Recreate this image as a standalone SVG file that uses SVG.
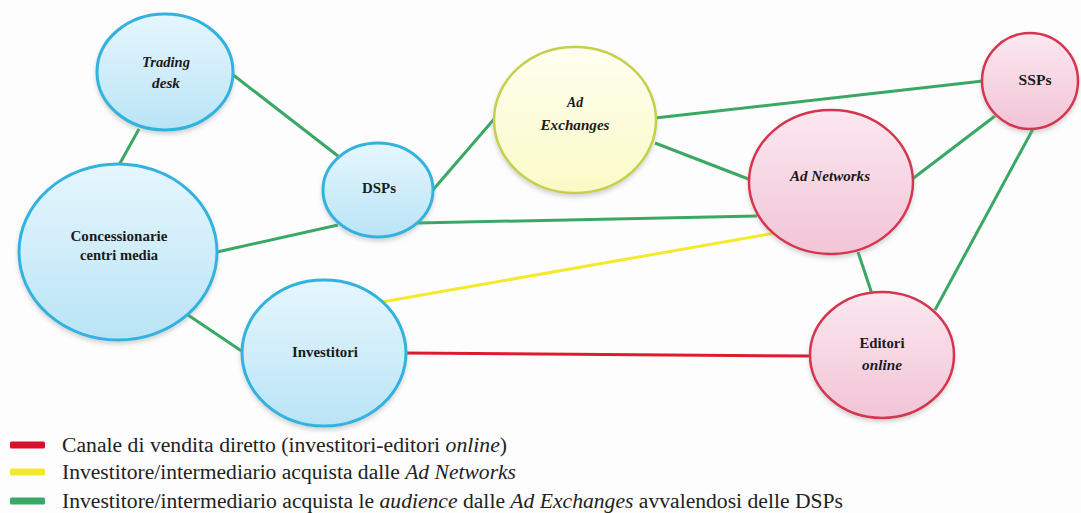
<svg xmlns="http://www.w3.org/2000/svg" width="1081" height="513" viewBox="0 0 1081 513">
<defs>
<linearGradient id="gBlue" x1="0" y1="0" x2="0" y2="1">
<stop offset="0" stop-color="#e6f6fd"/>
<stop offset="1" stop-color="#b9e4f6"/>
</linearGradient>
<linearGradient id="gPink" x1="0" y1="0" x2="0" y2="1">
<stop offset="0" stop-color="#fbe8f0"/>
<stop offset="1" stop-color="#f2c4d6"/>
</linearGradient>
<linearGradient id="gYellow" x1="0" y1="0" x2="0" y2="1">
<stop offset="0" stop-color="#fefef0"/>
<stop offset="1" stop-color="#fafac6"/>
</linearGradient>
<filter id="sh" x="-10%" y="-10%" width="120%" height="125%">
<feDropShadow dx="0" dy="3" stdDeviation="2" flood-color="#888" flood-opacity="0.35"/>
</filter>
</defs>
<style>
.bg{fill:#fdfdfd}
.blue{fill:url(#gBlue);stroke:#33b2df;stroke-width:3;filter:url(#sh)}
.pink{fill:url(#gPink);stroke:#d73450;stroke-width:2.5;filter:url(#sh)}
.yel{fill:url(#gYellow);stroke:#c6cf4a;stroke-width:2.5;filter:url(#sh)}
.lbl{font-weight:bold;font-size:15px;fill:#1a1a1a;text-anchor:middle}
.it{font-style:italic}
.g{stroke:#3aa865;stroke-width:3;fill:none}
.y{stroke:#f3ea2c;stroke-width:3;fill:none}
.r{stroke:#dc1c2e;stroke-width:3;fill:none}
.leg{font-size:20.5px;fill:#222}
</style>
<rect class="bg" x="0" y="0" width="1081" height="513"/>
<g id="connectors">
<line class="g" x1="139" y1="129" x2="119" y2="165"/>
<line class="g" x1="232" y1="74" x2="338" y2="156"/>
<line class="g" x1="217" y1="252" x2="338" y2="225"/>
<line class="g" x1="188" y1="315" x2="243" y2="352"/>
<line class="g" x1="432" y1="191" x2="495" y2="118"/>
<line class="g" x1="417" y1="223" x2="757" y2="216"/>
<line class="g" x1="655" y1="118" x2="983" y2="81"/>
<line class="g" x1="655" y1="143" x2="751" y2="180"/>
<line class="g" x1="911" y1="180" x2="995" y2="116"/>
<line class="g" x1="858" y1="252" x2="872" y2="294"/>
<line class="g" x1="1033" y1="129" x2="935" y2="310"/>
<line class="y" x1="382" y1="302" x2="775" y2="233"/>
<line class="r" x1="405" y1="353" x2="812" y2="356"/>
</g>
<g font-family="'Liberation Serif', 'Times New Roman', 'DejaVu Serif', serif">
<g id="trading-desk">
<ellipse class="blue" cx="165" cy="72" rx="68" ry="58"/>
<text class="lbl it" x="166" y="67" textLength="48" lengthAdjust="spacingAndGlyphs">Trading</text>
<text class="lbl it" x="166" y="88" textLength="28" lengthAdjust="spacingAndGlyphs">desk</text>
</g>
<g id="concessionarie">
<ellipse class="blue" cx="118" cy="252" rx="99" ry="88"/>
<text class="lbl" x="119" y="241" textLength="97" lengthAdjust="spacingAndGlyphs">Concessionarie</text>
<text class="lbl" x="119" y="260" textLength="78" lengthAdjust="spacingAndGlyphs">centri media</text>
</g>
<g id="dsps">
<ellipse class="blue" cx="378" cy="190" rx="55" ry="47"/>
<text class="lbl" x="379" y="193" textLength="34" lengthAdjust="spacingAndGlyphs">DSPs</text>
</g>
<g id="investitori">
<ellipse class="blue" cx="324" cy="353" rx="82" ry="73"/>
<text class="lbl" x="325" y="357" textLength="66" lengthAdjust="spacingAndGlyphs">Investitori</text>
</g>
<g id="ad-exchanges">
<ellipse class="yel" cx="575" cy="120" rx="81" ry="73"/>
<text class="lbl it" x="575" y="107" textLength="16" lengthAdjust="spacingAndGlyphs">Ad</text>
<text class="lbl it" x="575" y="130" textLength="69" lengthAdjust="spacingAndGlyphs">Exchanges</text>
</g>
<g id="ad-networks">
<ellipse class="pink" cx="831" cy="182" rx="82" ry="72"/>
<text class="lbl it" x="830" y="181" textLength="80" lengthAdjust="spacingAndGlyphs">Ad Networks</text>
</g>
<g id="ssps">
<ellipse class="pink" cx="1030" cy="81" rx="48" ry="48"/>
<text class="lbl" x="1035" y="85" textLength="33" lengthAdjust="spacingAndGlyphs">SSPs</text>
</g>
<g id="editori-online">
<ellipse class="pink" cx="882" cy="355" rx="72" ry="63"/>
<text class="lbl" x="882" y="348" textLength="45" lengthAdjust="spacingAndGlyphs">Editori</text>
<text class="lbl it" x="882" y="370" textLength="40" lengthAdjust="spacingAndGlyphs">online</text>
</g>
<g id="legend">
<rect x="10" y="441.5" width="35" height="7" rx="1.5" fill="#d8102a"/>
<rect x="10" y="468.5" width="35" height="7" rx="1.5" fill="#f3e92c"/>
<rect x="10" y="497.5" width="35" height="7" rx="1.5" fill="#3aa868"/>
<text class="leg" x="62" y="452" textLength="445" lengthAdjust="spacingAndGlyphs">Canale di vendita diretto (investitori-editori <tspan font-style="italic">online</tspan>)</text>
<text class="leg" x="62" y="479" textLength="454" lengthAdjust="spacingAndGlyphs">Investitore/intermediario acquista dalle <tspan font-style="italic">Ad Networks</tspan></text>
<text class="leg" x="62" y="508" textLength="781" lengthAdjust="spacingAndGlyphs">Investitore/intermediario acquista le <tspan font-style="italic">audience</tspan> dalle <tspan font-style="italic">Ad Exchanges</tspan> avvalendosi delle DSPs</text>
</g>
</g>
</svg>
